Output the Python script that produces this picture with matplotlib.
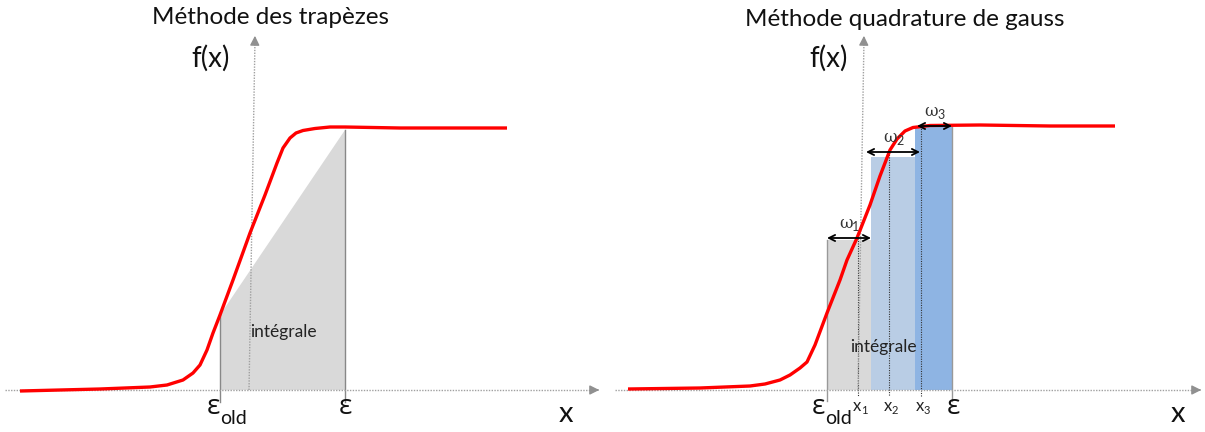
import matplotlib
matplotlib.use("Agg")
import matplotlib.pyplot as plt
from matplotlib.patches import Polygon, Rectangle

plt.rcParams['font.family'] = ['Lato', 'Open Sans', 'DejaVu Sans']

# ---------------- data (pixel-space diagram coordinates) ----------------
titles = ["Méthode des trapèzes", "Méthode quadrature de gauss"]

left_curve_x = [20, 100, 150, 167, 183, 193, 200, 207, 213, 220, 233, 250, 265, 277,
                283, 290, 296, 303, 315, 330, 345, 400, 507]
left_curve_y = [391, 389, 387, 385, 380, 373, 365, 350, 333, 315, 280, 233, 195, 163,
                148, 138, 133, 130.5, 128.5, 127, 127, 128, 128]

right_curve_x = [628, 700, 750, 765, 780, 790, 800, 807, 815, 827, 840, 847, 857, 870,
                 880, 890, 897, 905, 913, 930, 980, 1050, 1115]
right_curve_y = [389, 388, 386, 384, 380, 375, 368, 362, 345, 313, 280, 260, 238, 205,
                 176, 150, 139, 131, 127.5, 125.5, 125, 126, 126]

# trapezoid rule: interval bounds and f values
trap_bounds = [220, 345]
trap_values = [315, 130]

# gauss quadrature: bar edges, bar tops, nodes, weight-arrow heights
gauss_edges = [827, 871, 915, 952]
gauss_tops = [240, 157, 127]
gauss_nodes = [858, 889, 921]
gauss_arrow_y = [238, 152, 126]
gauss_arrow_span = [(827, 871), (866, 920), (917, 952)]
weight_labels = ["ω", "ω", "ω"]
weight_subs = ["1", "2", "3"]
node_labels = ["x", "x", "x"]
node_subs = ["1", "2", "3"]
bar_colors = ["#d9d9d9", "#b9cde5", "#8eb4e3"]

AXIS_Y = 390
GRAY = "#a0a0a0"

# ---------------- figure ----------------
fig = plt.figure(figsize=(12.05, 4.32), dpi=100)
ax = fig.add_axes([0, 0, 1, 1])
ax.set_xlim(0, 1205)
ax.set_ylim(432, 0)
ax.axis("off")


def draw_axes(x0, x1, yb, yt, ytop_x, ybot_x):
    # x axis
    ax.plot([x0, x1 - 6], [AXIS_Y, AXIS_Y], color=GRAY, lw=1, ls=(0, (1, 1)), zorder=5)
    ax.annotate("", xy=(x1, AXIS_Y), xytext=(x1 - 8, AXIS_Y),
                arrowprops=dict(arrowstyle="-|>", color="#909090", lw=1, mutation_scale=14),
                zorder=5)
    # y axis (slightly tilted, as in original)
    ax.plot([ybot_x, ytop_x], [yb, yt + 6], color=GRAY, lw=1, ls=(0, (1, 1)), zorder=5)
    ax.annotate("", xy=(ytop_x, yt), xytext=(ytop_x - 0.15, yt + 8),
                arrowprops=dict(arrowstyle="-|>", color="#909090", lw=1, mutation_scale=14),
                zorder=5)


# ---------------- left panel: trapezes ----------------
ax.add_patch(Polygon([(trap_bounds[0], AXIS_Y), (trap_bounds[0], trap_values[0]),
                      (trap_bounds[1], trap_values[1]), (trap_bounds[1], AXIS_Y)],
                     closed=True, facecolor="#d9d9d9", edgecolor="none", zorder=1))
for xb, yv in zip(trap_bounds, trap_values):
    ax.plot([xb, xb], [yv, 402], color="#888888", lw=1, zorder=3)

draw_axes(5, 602, 390, 33, 255, 249)
ax.plot(left_curve_x, left_curve_y, color="#ff0000", lw=2.4, solid_joinstyle="round",
        solid_capstyle="butt", zorder=6)

ax.text(271, 18, titles[0], fontsize=17.5, ha="center", va="center", color="#111111")
ax.text(211, 58, "f(x)", fontsize=20, ha="center", va="center", color="#111111")
ax.text(283, 332, "intégrale", fontsize=12.5, ha="center", va="center", color="#222222")
ax.text(566, 414, "x", fontsize=21, ha="center", va="center", color="#111111")
ax.text(213, 407, "ε", fontsize=20, ha="center", va="center", color="#111111",
        family=["Open Sans", "DejaVu Sans"])
ax.text(220, 419, "old", fontsize=14, ha="left", va="center", color="#111111")
ax.text(345, 407, "ε", fontsize=20, ha="center", va="center", color="#111111",
        family=["Open Sans", "DejaVu Sans"])

# ---------------- right panel: gauss quadrature ----------------
for i in range(3):
    ax.add_patch(Rectangle((gauss_edges[i], gauss_tops[i]),
                           gauss_edges[i + 1] - gauss_edges[i], AXIS_Y - gauss_tops[i],
                           facecolor=bar_colors[i], edgecolor="none", zorder=1))
ax.plot([gauss_edges[0], gauss_edges[0]], [gauss_tops[0], 401], color="#999999", lw=1, zorder=3)
ax.plot([gauss_edges[-1], gauss_edges[-1]], [gauss_tops[-1], 401], color="#999999", lw=1, zorder=3)

for xn, ya in zip(gauss_nodes, gauss_arrow_y):
    ax.plot([xn, xn], [ya, 396], color="#333333", lw=0.8, ls=(0, (1, 1.2)), zorder=4)

draw_axes(615, 1204, 390, 33, 864, 858)
ax.plot(right_curve_x, right_curve_y, color="#ff0000", lw=2.4, solid_joinstyle="round",
        solid_capstyle="butt", zorder=6)

for (xa, xb), ya, lab, sub in zip(gauss_arrow_span, gauss_arrow_y, weight_labels, weight_subs):
    ax.annotate("", xy=(xb, ya), xytext=(xa, ya),
                arrowprops=dict(arrowstyle="<->", color="black", lw=1.3, mutation_scale=11,
                                shrinkA=0, shrinkB=0), zorder=8)
    xm = (xa + xb) / 2
    ax.text(xm - 3, ya - 15, lab, fontsize=12, ha="center", va="center", color="#333333",
            family=["DejaVu Serif", "DejaVu Sans"], zorder=8)
    ax.text(xm + 3, ya - 11, sub, fontsize=9, ha="left", va="center", color="#333333", zorder=8)

ax.text(905, 20, titles[1], fontsize=17.5, ha="center", va="center", color="#111111")
ax.text(829, 58, "f(x)", fontsize=20, ha="center", va="center", color="#111111")
ax.text(883, 347, "intégrale", fontsize=12.5, ha="center", va="center", color="#222222", zorder=7)
ax.text(1178, 414, "x", fontsize=21, ha="center", va="center", color="#111111")
ax.text(818, 407, "ε", fontsize=20, ha="center", va="center", color="#111111",
        family=["Open Sans", "DejaVu Sans"])
ax.text(825, 419, "old", fontsize=14, ha="left", va="center", color="#111111")
for xn, lab, sub in zip(gauss_nodes, node_labels, node_subs):
    ax.text(xn - 1, 406, lab, fontsize=12, ha="center", va="center", color="#222222")
    ax.text(xn + 3, 411, sub, fontsize=8, ha="left", va="center", color="#222222")
ax.text(953, 407, "ε", fontsize=20, ha="center", va="center", color="#111111",
        family=["Open Sans", "DejaVu Sans"])

fig.savefig("out.png", dpi=100)
